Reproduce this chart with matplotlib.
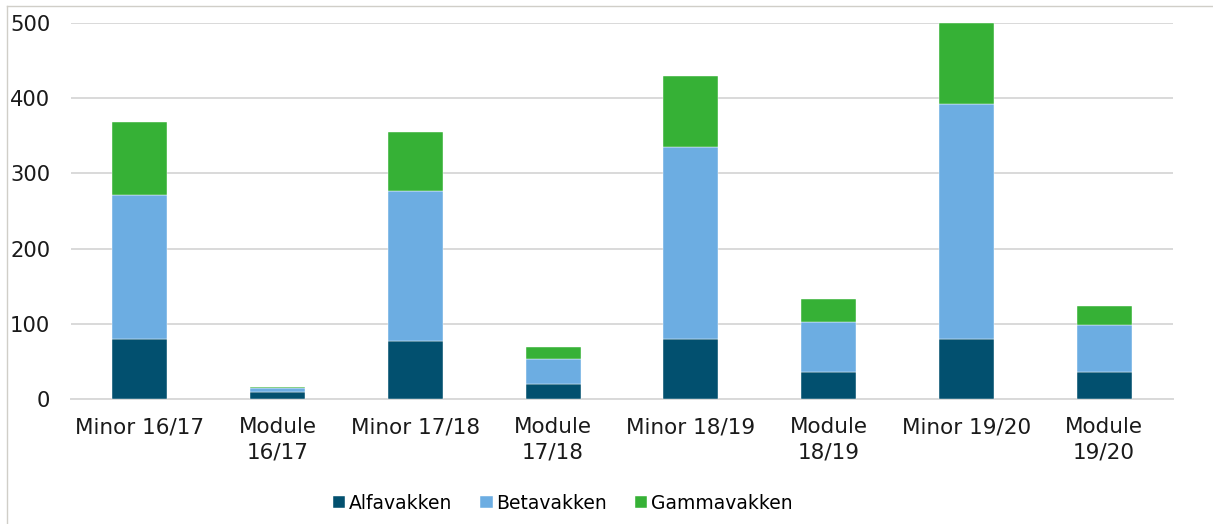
import matplotlib.pyplot as plt
import numpy as np
from matplotlib.lines import Line2D

CATEGORIES = ['Minor 16/17', 'Module\n16/17', 'Minor 17/18', 'Module\n17/18',
              'Minor 18/19', 'Module\n18/19', 'Minor 19/20', 'Module\n19/20']
ALFA = [80, 9, 77, 20, 80, 36, 80, 36]
BETA = [191, 5, 200, 33, 255, 66, 312, 62]
GAMMA = [97, 2, 78, 16, 94, 31, 108, 26]
SERIES = ['Alfavakken', 'Betavakken', 'Gammavakken']
COLORS = ['#02506F', '#6CADE2', '#36B136']


def main():
    plt.rcParams['font.family'] = 'DejaVu Sans'
    fig = plt.figure(figsize=(12.13, 5.24), dpi=100)
    ax = fig.add_axes([0.0585, 0.2385, 0.9085, 0.7175])

    x_pos = np.arange(len(CATEGORIES))
    bottom = np.zeros(len(CATEGORIES))
    for name, values, color in zip(SERIES, [ALFA, BETA, GAMMA], COLORS):
        ax.bar(x_pos, values, width=0.4, bottom=bottom, color=color,
               label=name, edgecolor='white', linewidth=0.3, zorder=3)
        bottom += np.array(values)

    # Axes styling
    ax.set_xlim(-0.5, len(CATEGORIES) - 0.5)
    ax.set_ylim(0, 500)
    ax.set_yticks(range(0, 501, 100))
    ax.set_xticks(x_pos)
    ax.set_xticklabels(CATEGORIES, fontsize=15.5, color='#1a1a1a',
                       linespacing=1.35)
    ax.tick_params(axis='y', labelsize=15.2, length=0, pad=15,
                   labelcolor='#1a1a1a')
    ax.tick_params(axis='x', length=0, pad=13)
    ax.yaxis.grid(True, color='#D9D9D9', linewidth=1.4, zorder=0)
    for side in ['top', 'right', 'left']:
        ax.spines[side].set_visible(False)
    ax.spines['bottom'].set_color('#D9D9D9')
    ax.spines['bottom'].set_linewidth(1.4)

    # Legend
    fig.legend(loc='center', bbox_to_anchor=(0.464, 0.04), ncol=3,
               frameon=False, fontsize=13.5, handlelength=0.65,
               handleheight=0.65, handletextpad=0.2, columnspacing=1.5)

    # Chart border (top and left edges visible)
    fig.add_artist(Line2D([0.006, 1.0], [0.989, 0.989], color='#D0CEC8',
                          linewidth=1.0, transform=fig.transFigure))
    fig.add_artist(Line2D([0.006, 0.006], [0.0, 0.989], color='#D0CEC8',
                          linewidth=1.0, transform=fig.transFigure))

    fig.savefig('out.png', dpi=100)
    plt.close()


if __name__ == '__main__':
    main()
